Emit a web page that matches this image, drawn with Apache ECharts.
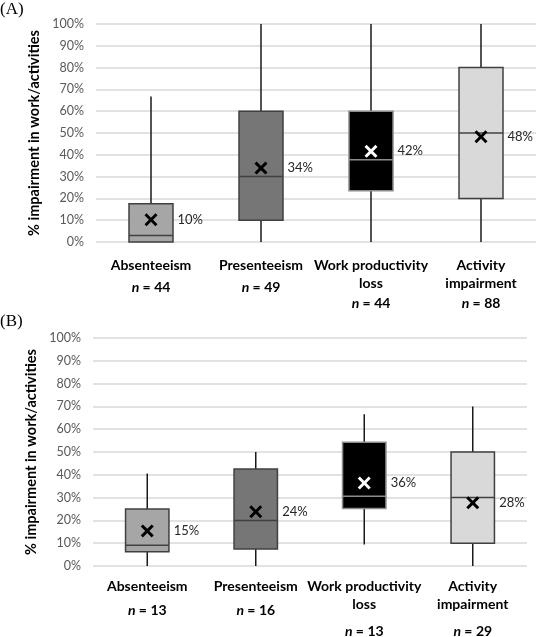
<!DOCTYPE html>
<html>
<head>
<meta charset="utf-8">
<script src="https://cdn.jsdelivr.net/npm/echarts@6/dist/echarts.min.js"></script>
<style>html,body{margin:0;padding:0;background:#fff}#c{width:538px;height:637px}</style>
</head>
<body>
<div id="c"></div>
<script>
// ---- data ----
const categories = ['Absenteeism', 'Presenteeism', 'Work productivity\nloss', 'Activity\nimpairment'];
const yTicks = [0, 10, 20, 30, 40, 50, 60, 70, 80, 90, 100];
// panel A: [min, Q1, median, Q3, max]
const boxA = [
  [0, 0, 3, 17.5, 66.7],
  [0, 10, 30, 60, 100],
  [0, 23.5, 37.7, 60, 100],
  [0, 20, 50, 80, 100]
];
const meanA = [10.2, 33.9, 41.6, 48.3];
const nA = [44, 49, 44, 88];
// panel B
const boxB = [
  [0, 6.2, 9.1, 25, 40.6],
  [0, 7.5, 20, 42.5, 50],
  [9.4, 25.2, 30.6, 54.3, 66.6],
  [0, 10, 30, 50, 70]
];
const meanB = [15.4, 23.8, 36.4, 27.7];
const nB = [13, 16, 13, 29];

// ---- styles ----
const fills = ['#a6a6a6', '#767676', '#000000', '#d9d9d9'];
const borders = ['#404040', '#404040', '#8c8c8c', '#404040'];
const meanColors = ['#000000', '#000000', '#ffffff', '#000000'];
const FONT = 'Lato';
const X_PATH = 'path://M1.6,0 L5,3.4 L8.4,0 L10,1.6 L6.6,5 L10,8.4 L8.4,10 L5,6.6 L1.6,10 L0,8.4 L3.4,5 L0,1.6 Z';

const chart = echarts.init(document.getElementById('c'), null, {renderer: 'canvas'});

function boxData(box) {
  return box.map((b, i) => [i].concat(b));
}
function renderBox(params, api) {
  const i = api.value(0);
  const cx = api.coord([i, 0])[0];
  const w = api.size([1, 0])[0] * 0.4;
  const yMin = api.coord([i, api.value(1)])[1];
  const yQ1 = api.coord([i, api.value(2)])[1];
  const yMed = api.coord([i, api.value(3)])[1];
  const yQ3 = api.coord([i, api.value(4)])[1];
  const yMax = api.coord([i, api.value(5)])[1];
  const wl = {stroke: '#1a1a1a', lineWidth: 1.5};
  return {
    type: 'group',
    children: [
      {type: 'line', shape: {x1: cx, y1: yMax, x2: cx, y2: yQ3}, style: wl},
      {type: 'line', shape: {x1: cx, y1: yQ1, x2: cx, y2: yMin}, style: wl},
      {type: 'rect', shape: {x: cx - w / 2, y: yQ3, width: w, height: yQ1 - yQ3},
        style: {fill: fills[i], stroke: borders[i], lineWidth: 1.5}},
      {type: 'line', shape: {x1: cx - w / 2, y1: yMed, x2: cx + w / 2, y2: yMed},
        style: {stroke: borders[i], lineWidth: 1.5}}
    ]
  };
}
function catFormatter(nArr, single, double) {
  return function (val, idx) {
    const lines = String(val).split('\n');
    const head = lines.map(l => '{b|' + l + '}').join('\n');
    const s = lines.length > 1 ? double : single;
    return head + '\n{' + s + 'i|n}{' + s + 'v| = ' + nArr[idx] + '}';
  };
}
function richFor(bLh, n1Lh, n2Lh) {
  const base = {fontFamily: FONT, fontWeight: 'bold', fontSize: 14, color: '#000'};
  return {
    b: Object.assign({}, base, {lineHeight: bLh}),
    si: Object.assign({}, base, {fontStyle: 'italic', lineHeight: n1Lh}),
    sv: Object.assign({}, base, {lineHeight: n1Lh}),
    di: Object.assign({}, base, {fontStyle: 'italic', lineHeight: n2Lh}),
    dv: Object.assign({}, base, {lineHeight: n2Lh})
  };
}
function yAxis(gi, nameGap) {
  return {
    type: 'value', gridIndex: gi, min: yTicks[0], max: yTicks[yTicks.length - 1], interval: 10,
    axisLine: {show: false}, axisTick: {show: false},
    axisLabel: {formatter: '{value}%', color: '#595959', fontFamily: FONT, fontSize: 12.5, margin: 12},
    splitLine: {lineStyle: {color: '#d9d9d9', width: 1.5}},
    name: '% impairment in work/activities', nameLocation: 'middle', nameGap: nameGap,
    nameTextStyle: {fontFamily: FONT, fontWeight: 'bold', fontSize: 14.5, color: '#000'}
  };
}
function xAxis(gi, nArr, margin, rich) {
  return {
    type: 'category', gridIndex: gi, data: categories, boundaryGap: true,
    axisLine: {show: false}, axisTick: {show: false},
    axisLabel: {interval: 0, margin: margin, formatter: catFormatter(nArr, 's', 'd'), rich: rich}
  };
}
function meanSeries(gi, means) {
  return {
    type: 'scatter', xAxisIndex: gi, yAxisIndex: gi, z: 5,
    symbol: X_PATH, symbolSize: 13,
    data: means.map((m, i) => ({value: [i, m], itemStyle: {color: meanColors[i], opacity: 1}})),
    itemStyle: {opacity: 1},
    label: {show: true, position: 'right', distance: 20, color: '#262626', fontFamily: FONT, fontSize: 13,
      formatter: p => Math.round(p.value[1]) + '%'}
  };
}

chart.setOption({
  animation: false,
  backgroundColor: '#fff',
  grid: [
    {left: 96, width: 440, top: 24, height: 218, containLabel: false, outerBoundsMode: 'none'},
    {left: 93, width: 434, top: 338, height: 228, containLabel: false, outerBoundsMode: 'none'}
  ],
  xAxis: [xAxis(0, nA, 15, richFor(17.5, 26, 23)), xAxis(1, nB, 11.5, richFor(18, 29, 35))],
  yAxis: [yAxis(0, 42), yAxis(1, 46)],
  graphic: [
    {type: 'text', left: 0, top: 1, style: {text: '(A)', fontFamily: 'Liberation Serif', fontSize: 17, fill: '#000'}},
    {type: 'text', left: 0, top: 313, style: {text: '(B)', fontFamily: 'Liberation Serif', fontSize: 17, fill: '#000'}}
  ],
  series: [
    {type: 'custom', xAxisIndex: 0, yAxisIndex: 0, renderItem: renderBox, data: boxData(boxA), z: 3},
    {type: 'custom', xAxisIndex: 1, yAxisIndex: 1, renderItem: renderBox, data: boxData(boxB), z: 3},
    meanSeries(0, meanA),
    meanSeries(1, meanB)
  ]
});
</script>
</body>
</html>
